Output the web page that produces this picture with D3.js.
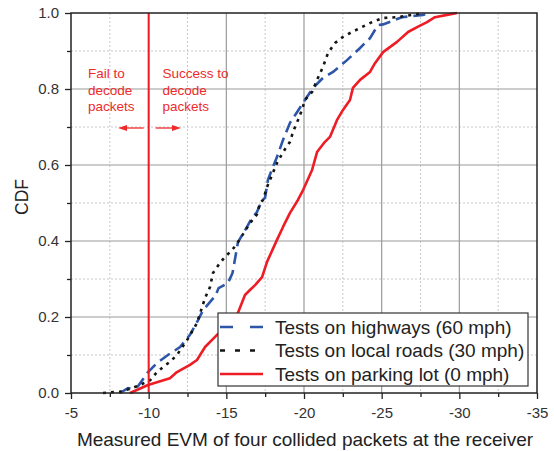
<!DOCTYPE html>
<html><head><meta charset="utf-8">
<script src="https://cdn.jsdelivr.net/npm/d3@7"></script>
<style>body{margin:0;background:#fff;} text{font-family:"Liberation Sans",Arial,sans-serif;}</style>
</head><body>
<svg id="c" width="554" height="451"></svg>
<script>
// EVM (dB) values and CDF values for each series
const parkingEVM = [-8.8,-9.96,-11.37,-11.82,-12.66,-13.11,-13.63,-14.4,-15.11,-15.75,-16.2,-16.52,-16.85,-17.3,-17.62,-18.26,-18.65,-19.1,-19.61,-19.94,-20.52,-20.84,-21.35,-21.67,-22.12,-22.51,-22.96,-23.15,-23.61,-24.25,-24.57,-25.09,-25.99,-26.7,-27.28,-27.92,-28.43,-29.21,-29.85];
const parkingCDF = [0,0.021,0.039,0.055,0.074,0.087,0.121,0.153,0.174,0.211,0.258,0.271,0.284,0.305,0.345,0.403,0.437,0.474,0.508,0.534,0.587,0.634,0.661,0.674,0.718,0.745,0.771,0.803,0.824,0.845,0.868,0.897,0.924,0.95,0.963,0.976,0.989,0.995,1];

const highwayEVM = [-8.15,-8.67,-9.0,-9.31,-9.96,-10.54,-11.24,-12.02,-12.66,-13.18,-13.5,-14.3,-14.5,-15.1,-15.4,-15.75,-16.33,-16.65,-16.97,-17.3,-17.49,-17.68,-18.0,-18.26,-18.65,-19.1,-19.55,-20.06,-20.58,-21.22,-21.87,-22.77,-23.61,-24.25,-24.76,-25.09,-25.99,-26.31,-27.02,-27.66,-28.1];
const highwayCDF = [0,0.013,0.011,0.018,0.055,0.079,0.1,0.121,0.153,0.192,0.218,0.256,0.276,0.289,0.316,0.397,0.437,0.461,0.476,0.508,0.513,0.561,0.595,0.621,0.666,0.711,0.739,0.771,0.803,0.829,0.845,0.876,0.908,0.934,0.968,0.97,0.984,0.989,0.992,0.995,1];

const localEVM = [-7.06,-7.83,-8.15,-8.8,-9.44,-10.1,-10.54,-10.92,-11.37,-11.82,-12.47,-13.11,-13.63,-13.95,-14.14,-14.59,-14.91,-15.37,-15.75,-16.52,-16.97,-17.17,-17.36,-17.62,-18.26,-18.65,-19.1,-19.29,-19.61,-19.87,-20.06,-20.52,-20.84,-21.22,-21.55,-22.0,-22.51,-23.09,-23.73,-24.38,-25.09,-25.99,-26.95,-27.66];
const localCDF = [0,0.003,0.003,0.011,0.021,0.034,0.055,0.068,0.082,0.1,0.139,0.184,0.25,0.279,0.316,0.342,0.358,0.376,0.397,0.447,0.47,0.5,0.508,0.542,0.605,0.634,0.661,0.687,0.718,0.745,0.771,0.792,0.824,0.858,0.895,0.921,0.937,0.95,0.963,0.976,0.987,0.989,0.995,1];

const seriesNames = ["Tests on highways (60 mph)","Tests on local roads (30 mph)","Tests on parking lot (0 mph)"];
const xTicks = [-5,-10,-15,-20,-25,-30,-35];
const yTicks = [0,0.2,0.4,0.6,0.8,1.0];
const xMinor = [-7.5,-12.5,-17.5,-22.5,-27.5,-32.5];
const yMinor = [0.1,0.3,0.5,0.7,0.9];
const threshold = -10;
const leftNote = ["Fail to","decode","packets"];
const rightNote = ["Success to","decode","packets"];
const xTitle = "Measured EVM of four collided packets at the receiver";
const yTitle = "CDF";

const L=71,R=537,T=13,B=393;
const svg=d3.select("#c");
const x=d3.scaleLinear().domain([-5,-35]).range([L,R]);
const y=d3.scaleLinear().domain([0,1]).range([B,T]);

// minor grid
const g=svg.append("g");
g.selectAll(".mx").data(xMinor).join("line").attr("x1",d=>x(d)).attr("x2",d=>x(d)).attr("y1",T).attr("y2",B)
 .attr("stroke","#c8c8c8").attr("stroke-width",1).attr("stroke-dasharray","2,2");
g.selectAll(".my").data(yMinor).join("line").attr("y1",d=>y(d)).attr("y2",d=>y(d)).attr("x1",L).attr("x2",R)
 .attr("stroke","#c8c8c8").attr("stroke-width",1).attr("stroke-dasharray","2,2");
// major grid
g.selectAll(".Mx").data(xTicks.slice(1,-1)).join("line").attr("x1",d=>x(d)).attr("x2",d=>x(d)).attr("y1",T).attr("y2",B)
 .attr("stroke","#9a9a9a").attr("stroke-width",1.2);
g.selectAll(".My").data(yTicks.slice(1,-1)).join("line").attr("y1",d=>y(d)).attr("y2",d=>y(d)).attr("x1",L).attr("x2",R)
 .attr("stroke","#9a9a9a").attr("stroke-width",1.2);

// annotations
const ann=svg.append("g").attr("fill","#ee2a2a").attr("font-size",13.5);
leftNote.forEach((t,i)=>ann.append("text").attr("x",88).attr("y",78+i*16.5).text(t));
rightNote.forEach((t,i)=>ann.append("text").attr("x",162.5).attr("y",78+i*16.5).text(t));
svg.append("line").attr("x1",x(threshold)-5).attr("x2",125).attr("y1",128).attr("y2",128).attr("stroke","#ee2a2a").attr("stroke-width",1.3);
svg.append("path").attr("d","M118,128 L127,125 L127,131 Z").attr("fill","#ee2a2a");
svg.append("line").attr("x1",x(threshold)+7).attr("x2",174).attr("y1",128).attr("y2",128).attr("stroke","#ee2a2a").attr("stroke-width",1.3);
svg.append("path").attr("d","M181,128 L172,125 L172,131 Z").attr("fill","#ee2a2a");

// curves
const line=d3.line().x(d=>x(d[0])).y(d=>y(d[1]));
const zip=(a,b)=>a.map((v,i)=>[v,b[i]]);
svg.append("path").datum(zip(parkingEVM,parkingCDF)).attr("d",line).attr("fill","none").attr("stroke","#ee1c25").attr("stroke-width",2.6).attr("stroke-linejoin","round");
svg.append("path").datum(zip(highwayEVM,highwayCDF)).attr("d",line).attr("fill","none").attr("stroke","#2d55a8").attr("stroke-width",2.6).attr("stroke-dasharray","12,6");
svg.append("path").datum(zip(localEVM,localCDF)).attr("d",line).attr("fill","none").attr("stroke","#151515").attr("stroke-width",2.6).attr("stroke-dasharray","3,5");

// threshold line
svg.append("line").attr("x1",x(threshold)).attr("x2",x(threshold)).attr("y1",T).attr("y2",B).attr("stroke","#ee1c25").attr("stroke-width",2);

// frame
svg.append("rect").attr("x",L).attr("y",T).attr("width",R-L).attr("height",B-T).attr("fill","none").attr("stroke","#222").attr("stroke-width",1.5);

// axes
const xa=svg.append("g").attr("transform",`translate(0,${B})`).call(d3.axisBottom(x).tickValues(xTicks).tickFormat(d=>String(d)).tickSize(6).tickSizeOuter(0));
const xm=svg.append("g").attr("transform",`translate(0,${B})`).call(d3.axisBottom(x).tickValues(xMinor).tickFormat("").tickSize(4).tickSizeOuter(0));
const ya=svg.append("g").attr("transform",`translate(${L},0)`).call(d3.axisLeft(y).tickValues(yTicks).tickFormat(d3.format(".1f")).tickSize(6).tickSizeOuter(0));
const ym=svg.append("g").attr("transform",`translate(${L},0)`).call(d3.axisLeft(y).tickValues(yMinor).tickFormat("").tickSize(4).tickSizeOuter(0));
[xa,xm,ya,ym].forEach(a=>{a.select(".domain").remove();a.selectAll("line").attr("stroke","#222").attr("stroke-width",1.3);
 a.selectAll("text").attr("font-size",15).attr("fill","#333").attr("font-family","Liberation Sans, Arial, sans-serif");});
xa.selectAll("text").attr("dy","0.71em").attr("y",14);
ya.selectAll("text").attr("x",-12);

// titles
svg.append("text").attr("x",(L+R)/2+1).attr("y",446).attr("text-anchor","middle").attr("font-size",19).attr("fill","#222").text(xTitle);
svg.append("text").attr("transform",`translate(28,${(T+B)/2-6}) rotate(-90)`).attr("text-anchor","middle").attr("font-size",17.5).attr("fill","#222").text(yTitle);

// legend
const lg=svg.append("g");
lg.append("rect").attr("x",218).attr("y",313).attr("width",310).attr("height",73).attr("fill","#fff").attr("stroke","#333").attr("stroke-width",1.2);
const styles=[{c:"#2d55a8",da:"13,17"},{c:"#151515",da:"5,10"},{c:"#ee1c25",da:null}];
seriesNames.forEach((n,i)=>{
  const yy=327+i*23.5;
  const l=lg.append("line").attr("x1",220).attr("x2",263).attr("y1",yy).attr("y2",yy).attr("stroke",styles[i].c).attr("stroke-width",2.6);
  if(styles[i].da) l.attr("stroke-dasharray",styles[i].da);
  lg.append("text").attr("x",275).attr("y",yy+6.5).attr("font-size",19).attr("fill","#222").text(n);
});
</script>
</body></html>
